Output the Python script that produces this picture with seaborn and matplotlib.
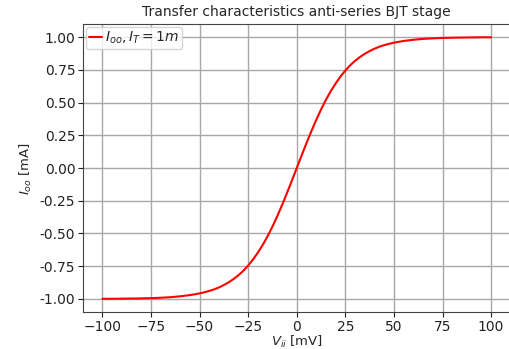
import matplotlib
matplotlib.use('Agg')
import matplotlib.pyplot as plt
import pandas as pd
import seaborn as sns

# Transfer curve (V in mV, I in mA)
v_ii = [-100, -95, -90, -85, -80, -75, -70, -65, -60, -55, -50, -47.5, -45, -42.5, -40,
        -37.5, -35, -32.5, -30, -27.5, -25, -22.5, -20, -17.5, -15, -12.5, -10, -7.5,
        -5, -2.5, 0, 2.5, 5, 7.5, 10, 12.5, 15, 17.5, 20, 22.5, 25, 27.5, 30, 32.5,
        35, 37.5, 40, 42.5, 45, 47.5, 50, 55, 60, 65, 70, 75, 80, 85, 90, 95, 100]
i_oo = [-0.999, -0.999, -0.998, -0.997, -0.996, -0.994, -0.991, -0.987, -0.980, -0.971,
        -0.958, -0.949, -0.939, -0.927, -0.912, -0.894, -0.873, -0.848, -0.819, -0.785,
        -0.745, -0.699, -0.646, -0.587, -0.521, -0.447, -0.367, -0.281, -0.190, -0.096,
        0.0, 0.096, 0.190, 0.281, 0.367, 0.447, 0.521, 0.587, 0.646, 0.699,
        0.745, 0.785, 0.819, 0.848, 0.873, 0.894, 0.912, 0.927, 0.939, 0.949,
        0.958, 0.971, 0.980, 0.987, 0.991, 0.994, 0.996, 0.997, 0.998, 0.999, 0.999]
x_ticks = [-100, -75, -50, -25, 0, 25, 50, 75, 100]
y_ticks = [-1.0, -0.75, -0.5, -0.25, 0.0, 0.25, 0.5, 0.75, 1.0]

df = pd.DataFrame({'V': v_ii, 'I': i_oo})

sns.set_style('white')
plt.rcParams['font.family'] = ['DejaVu Sans']

fig = plt.figure(figsize=(5.09, 3.49), dpi=100)
ax = fig.add_axes([0.163, 0.106, 0.84, 0.825])

sns.lineplot(data=df, x='V', y='I', color='red', linewidth=1.5,
             label=r'$I_{oo}, I_T = 1m$', ax=ax)

ax.set_xlim(-110, 110)
ax.set_ylim(-1.1, 1.1)
ax.set_xticks(x_ticks)
ax.set_yticks(y_ticks)
ax.set_yticklabels(['%.2f' % t for t in y_ticks])
ax.tick_params(direction='out', length=3.5, width=0.8, labelsize=10, colors='#222222',
               left=True, bottom=True, pad=2)
ax.grid(True, color='#a8a8a8', linewidth=1.0)
for s in ax.spines.values():
    s.set_color('#444444')
    s.set_linewidth(0.8)

ax.set_xlabel(r'$V_{ii}$ [mV]', fontsize=9.5, labelpad=0)
ax.set_ylabel(r'$I_{oo}$ [mA]', fontsize=9.5)
ax.set_title('Transfer characteristics anti-series BJT stage', fontsize=10, pad=6)
ax.legend(loc='upper left', fontsize=10, borderpad=0.2, handlelength=1.0,
          handletextpad=0.2, borderaxespad=0.2, framealpha=0.8)

fig.savefig('out.png', dpi=100)
